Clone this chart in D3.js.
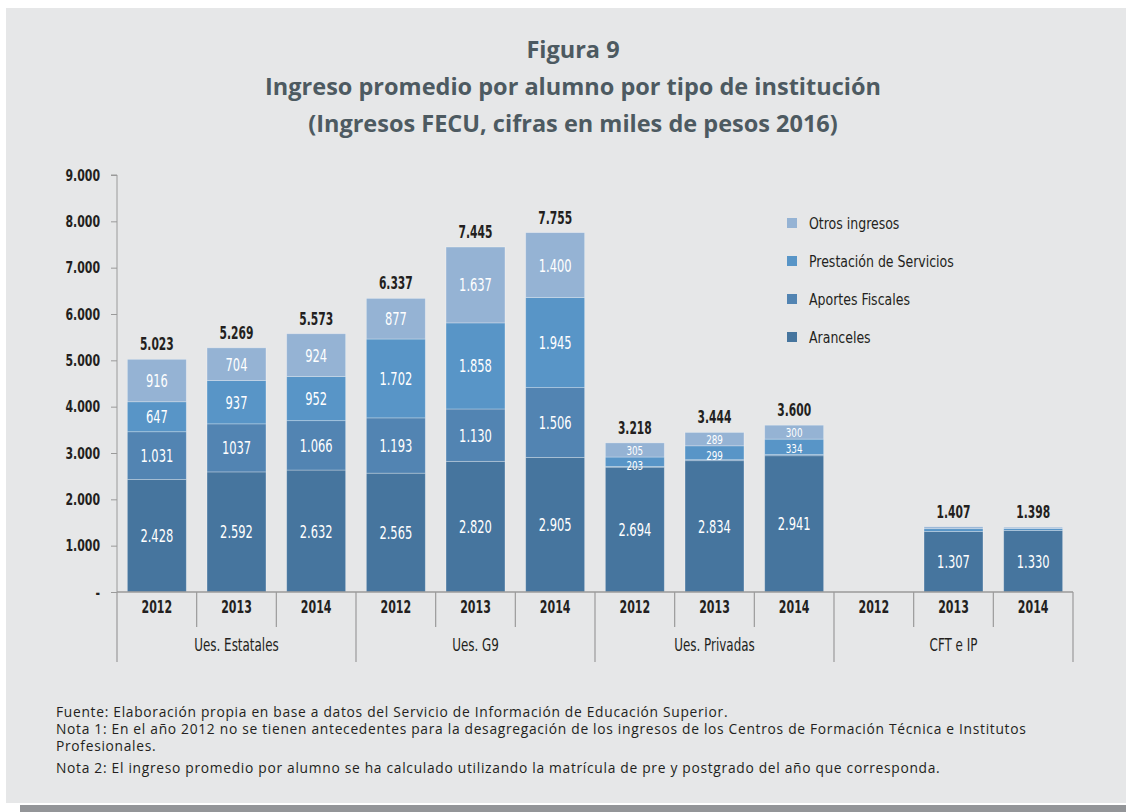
<!DOCTYPE html>
<html>
<head>
<meta charset="utf-8">
<script src="https://cdn.jsdelivr.net/npm/d3@7"></script>
<style>
  body { margin: 0; background: #fff; }
  .cond { font-family: "DejaVu Sans Condensed", "DejaVu Sans", sans-serif; }
</style>
</head>
<body>
<div id="chart"></div>
<script>
// data (miles de pesos 2016)
const groups = ["Ues. Estatales", "Ues. G9", "Ues. Privadas", "CFT e IP"];
const years = ["2012", "2013", "2014"];
const aranceles  = [2428, 2592, 2632, 2565, 2820, 2905, 2694, 2834, 2941, null, 1307, 1330];
const aportes    = [1031, 1037, 1066, 1193, 1130, 1506,   16,   22,   25, null,    0,    0];
const prestacion = [ 647,  937,  952, 1702, 1858, 1945,  203,  299,  334, null,   60,   40];
const otros      = [ 916,  704,  924,  877, 1637, 1400,  305,  289,  300, null,   40,   28];
const totals     = [5023, 5269, 5573, 6337, 7445, 7755, 3218, 3444, 3600, null, 1407, 1398];
const yTicks = [0, 1000, 2000, 3000, 4000, 5000, 6000, 7000, 8000, 9000];
const seriesNames = ["Aranceles", "Aportes Fiscales", "Prestación de Servicios", "Otros ingresos"];
const seriesColors = ["#46759e", "#5284b2", "#5895c7", "#95b3d4"];
// one label in the source is printed without thousands separator
const labelOverride = { "Aportes Fiscales|1": "1037" };

const W = 1126, H = 812;
const svg = d3.select("#chart").append("svg")
  .attr("width", W).attr("height", H);

// squeeze text horizontally to mimic the condensed face of the original
function condense(sel, k) {
  sel.each(function() {
    const len = this.getComputedTextLength();
    d3.select(this).attr("textLength", len * k).attr("lengthAdjust", "spacingAndGlyphs");
  });
}

// panel background + bottom bar
svg.append("rect").attr("x", 6).attr("y", 8).attr("width", W - 6).attr("height", 795).attr("fill", "#e6e7e8");
svg.append("rect").attr("x", 20).attr("y", 805).attr("width", W - 20).attr("height", 7).attr("fill", "#939598");

// title
const titleLines = ["Figura 9", "Ingreso promedio por alumno por tipo de institución", "(Ingresos FECU, cifras en miles de pesos 2016)"];
svg.append("g").selectAll("text")
  .data(titleLines)
  .join("text")
  .attr("x", 573)
  .attr("y", (d, i) => 58 + i * 37)
  .attr("text-anchor", "middle")
  .attr("font-family", "'Open Sans', sans-serif")
  .attr("font-weight", 700)
  .attr("font-size", 23.5)
  .attr("fill", "#4d5a61")
  .text(d => d);

const keys = [];
groups.forEach(g => years.forEach(y => keys.push(g + " " + y)));

const rows = keys.map((k, i) => ({
  key: k, idx: i,
  "Aranceles": aranceles[i] || 0,
  "Aportes Fiscales": aportes[i] || 0,
  "Prestación de Servicios": prestacion[i] || 0,
  "Otros ingresos": otros[i] || 0,
  total: totals[i]
}));

const plotLeft = 117, plotRight = 1073, plotTop = 175, plotBase = 592;
const x = d3.scaleBand().domain(keys).range([plotLeft, plotRight]).paddingInner(0.26).paddingOuter(0.13);
const y = d3.scaleLinear().domain([0, 9000]).range([plotBase, plotTop]);
const color = d3.scaleOrdinal().domain(seriesNames).range(seriesColors);
const fmt = d3.formatLocale({ decimal: ",", thousands: ".", grouping: [3], currency: ["$", ""] }).format(",d");

const stack = d3.stack().keys(seriesNames)(rows);

// y axis
const yAxis = svg.append("g")
  .attr("class", "cond")
  .attr("transform", `translate(${plotLeft},0)`)
  .call(d3.axisLeft(y).tickValues(yTicks).tickSize(6).tickPadding(11)
    .tickFormat(d => d === 0 ? "-" : fmt(d)));
yAxis.select(".domain").attr("stroke", "#9a9a9a").attr("d", `M-6,${plotTop}H0V${plotBase}`);
yAxis.selectAll(".tick line").attr("stroke", "#9a9a9a");
yAxis.selectAll(".tick text").attr("font-size", 16).attr("fill", "#231f20").attr("font-weight", 700)
  .call(condense, 0.76);

// bars
const layers = svg.append("g").selectAll("g")
  .data(stack)
  .join("g")
  .attr("fill", d => color(d.key));

layers.selectAll("rect")
  .data(d => d.filter(p => p.data.total !== null && p[1] - p[0] > 0))
  .join("rect")
  .attr("x", d => x(d.data.key))
  .attr("width", x.bandwidth())
  .attr("y", d => y(d[1]))
  .attr("height", d => y(d[0]) - y(d[1]))
  .attr("stroke", "rgba(255,255,255,0.35)")
  .attr("stroke-width", 0.8);

// segment labels: centred in segment, pushed apart when segments are thin
const segLabels = [];
rows.forEach((r, i) => {
  if (r.total === null) return;
  const items = [];
  stack.forEach(layer => {
    const p = layer[i];
    if (p[1] - p[0] >= 100) {
      items.push({
        key: r.key,
        cy: (y(p[0]) + y(p[1])) / 2,
        small: y(p[0]) - y(p[1]) < 20,
        text: labelOverride[layer.key + "|" + i] || fmt(p[1] - p[0])
      });
    }
  });
  // items go bottom -> top; keep at least 15px between centres
  for (let j = items.length - 2; j >= 0; j--) {
    if (items[j].cy - items[j + 1].cy < 15.5) items[j].cy = items[j + 1].cy + 15.5;
  }
  segLabels.push(...items);
});

svg.append("g").attr("class", "cond").selectAll("text")
  .data(segLabels)
  .join("text")
  .attr("x", d => x(d.key) + x.bandwidth() / 2)
  .attr("y", d => d.cy + (d.small ? 5 : 6.5))
  .attr("text-anchor", "middle")
  .attr("font-size", d => d.small ? 13 : 17)
  .attr("fill", "#fff")
  .text(d => d.text)
  .call(condense, 0.75);

// totals
svg.append("g").attr("class", "cond").selectAll("text")
  .data(rows.filter(r => r.total !== null))
  .join("text")
  .attr("x", d => x(d.key) + x.bandwidth() / 2)
  .attr("y", d => y(d.total) - 9)
  .attr("text-anchor", "middle")
  .attr("font-size", 17)
  .attr("font-weight", 700)
  .attr("fill", "#231f20")
  .text(d => fmt(d.total))
  .call(condense, 0.7);

// x axis: year row + group row
const step = x.step();
const xa = svg.append("g").attr("class", "cond");
xa.append("line").attr("x1", plotLeft).attr("x2", plotRight).attr("y1", plotBase).attr("y2", plotBase)
  .attr("stroke", "#9a9a9a").attr("stroke-width", 1.5);
xa.selectAll(".ydiv")
  .data(d3.range(keys.length + 1))
  .join("line")
  .attr("x1", i => plotLeft + i * step).attr("x2", i => plotLeft + i * step)
  .attr("y1", plotBase).attr("y2", i => i % 3 === 0 ? 662 : 627)
  .attr("stroke", "#9a9a9a").attr("stroke-width", 1.2);
xa.selectAll(".yl")
  .data(keys)
  .join("text")
  .attr("x", d => x(d) + x.bandwidth() / 2)
  .attr("y", 613)
  .attr("text-anchor", "middle")
  .attr("font-size", 17)
  .attr("font-weight", 700)
  .attr("fill", "#231f20")
  .text(d => d.slice(-4))
  .call(condense, 0.72);
xa.selectAll(".gl")
  .data(groups)
  .join("text")
  .attr("x", (d, i) => plotLeft + (i * 3 + 1.5) * step)
  .attr("y", 651)
  .attr("text-anchor", "middle")
  .attr("font-size", 17)
  .attr("fill", "#231f20")
  .text(d => d)
  .call(condense, 0.78);

// legend (top entry is Otros ingresos)
const legend = svg.append("g").attr("class", "cond")
  .selectAll("g")
  .data(seriesNames.slice().reverse())
  .join("g")
  .attr("transform", (d, i) => `translate(787,${223 + i * 38})`);
legend.append("rect").attr("x", 0).attr("y", -5).attr("width", 10).attr("height", 10).attr("fill", d => color(d));
legend.append("text").attr("x", 22).attr("y", 6)
  .attr("font-size", 16).attr("fill", "#231f20").text(d => d)
  .call(condense, 0.87);

// notes
const notes = [
  "Fuente: Elaboración propia en base a datos del Servicio de Información de Educación Superior.",
  "Nota 1: En el año 2012 no se tienen antecedentes para la desagregación de los ingresos de los Centros de Formación Técnica e Institutos",
  "Profesionales.",
  "Nota 2: El ingreso promedio por alumno se ha calculado utilizando la matrícula de pre y postgrado del año que corresponda."
];
svg.append("g").selectAll("text")
  .data(notes)
  .join("text")
  .attr("x", 56)
  .attr("y", (d, i) => 717 + i * 17 + (i === 3 ? 5 : 0))
  .attr("font-family", "'Open Sans', sans-serif")
  .attr("font-size", 13.8)
  .attr("letter-spacing", 0.7)
  .attr("fill", "#231f20")
  .text(d => d);
</script>
</body>
</html>
